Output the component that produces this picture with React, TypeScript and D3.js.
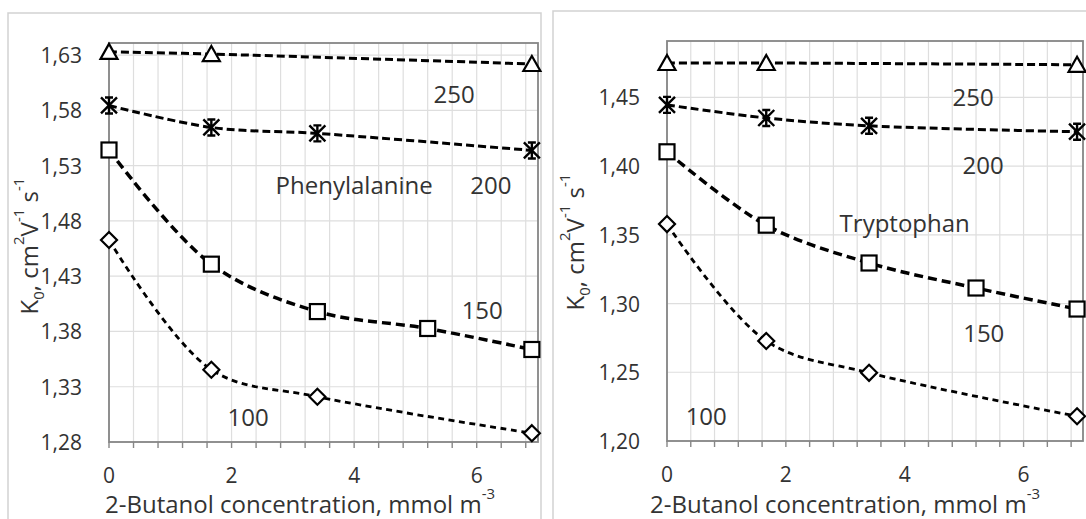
import React from "react";
import * as d3 from "d3";

// x positions (mmol m-3) of the measured points for each curve
const conc250 = [0, 1.67, 6.9];
const conc200 = [0, 1.67, 3.4, 6.9];
const conc150 = [0, 1.67, 3.4, 5.2, 6.9];
const conc100 = [0, 1.67, 3.4, 6.9];

// Phenylalanine K0 values
const phe250 = [1.633, 1.631, 1.622];
const phe200 = [1.5845, 1.5646, 1.5592, 1.5438];
const phe150 = [1.5442, 1.4409, 1.398, 1.3827, 1.3637];
const phe100 = [1.4628, 1.3454, 1.321, 1.288];

// Tryptophan K0 values
const trp250 = [1.475, 1.475, 1.4737];
const trp200 = [1.4445, 1.435, 1.4293, 1.425];
const trp150 = [1.4104, 1.357, 1.3295, 1.3113, 1.296];
const trp100 = [1.3578, 1.2728, 1.2496, 1.218];

// tick labels
const xTicks = [0, 2, 4, 6];
const pheYTicks = [1.28, 1.33, 1.38, 1.43, 1.48, 1.53, 1.58, 1.63];
const trpYTicks = [1.2, 1.25, 1.3, 1.35, 1.4, 1.45];

const font = "'Open Sans', 'DejaVu Sans', sans-serif";
const textColor = "#333";
const fmt = d3
  .formatLocale({ decimal: ",", thousands: " ", grouping: [3], currency: ["", ""] })
  .format(".2f");

type Kind = "triangle" | "star" | "square" | "diamond";

const Marker = ({ kind, x, y }: { kind: Kind; x: number; y: number }) => {
  const common = { fill: "#fff", stroke: "#000", strokeWidth: 2.2 };
  if (kind === "triangle")
    return <path d={`M${x},${y - 8}L${x + 8.5},${y + 7}L${x - 8.5},${y + 7}Z`} {...common} />;
  if (kind === "square")
    return <rect x={x - 7.5} y={y - 7.5} width={15} height={15} {...common} />;
  if (kind === "diamond")
    return <path d={`M${x},${y - 8}L${x + 8},${y}L${x},${y + 8}L${x - 8},${y}Z`} {...common} />;
  const s = 8;
  return (
    <path
      d={`M${x - s},${y - s}L${x + s},${y + s}M${x - s},${y + s}L${x + s},${y - s}M${x},${y - s}L${x},${y + s}M${x - 4},${y - s}L${x + 4},${y - s}M${x - 4},${y + s}L${x + 4},${y + s}`}
      stroke="#000"
      strokeWidth={2.4}
      fill="none"
    />
  );
};

type Series = { conc: number[]; vals: number[]; kind: Kind; width: number; dash: string };
type Note = { text: string; x: number; y: number };

type PanelProps = {
  box: { left: number; top: number; right: number; bottom: number };
  yMin: number;
  yMax: number;
  yTicks: number[];
  series: Series[];
  notes: Note[];
  yTitle: { x: number; y: number };
  xTitle: { x: number; y: number };
};

const Panel = ({ box, yMin, yMax, yTicks, series, notes, yTitle, xTitle }: PanelProps) => {
  const x = d3.scaleLinear().domain([0, 7]).range([box.left, box.right]);
  const y = d3.scaleLinear().domain([yMin, yMax]).range([box.bottom, box.top]);
  const minor = d3.range(0, 7, 0.4);

  const line = d3
    .line<[number, number]>()
    .x((d) => x(d[0]))
    .y((d) => y(d[1]))
    .curve(d3.curveCatmullRom);

  return (
    <g fontFamily={font}>
      {/* gridlines */}
      {minor.map((v) => (
        <line key={"v" + v} x1={x(v)} x2={x(v)} y1={box.top} y2={box.bottom} stroke="#dedede" strokeWidth={1.2} />
      ))}
      {yTicks.map((v) => (
        <line key={"h" + v} x1={box.left} x2={box.right} y1={y(v)} y2={y(v)} stroke="#dedede" strokeWidth={1.2} />
      ))}
      {/* plot border */}
      <rect
        x={box.left}
        y={box.top}
        width={box.right - box.left}
        height={box.bottom - box.top}
        fill="none"
        stroke="#868686"
        strokeWidth={1.8}
      />
      {/* x minor ticks */}
      {minor.map((v) => (
        <line key={"t" + v} x1={x(v)} x2={x(v)} y1={box.bottom} y2={box.bottom + 6} stroke="#868686" strokeWidth={1.4} />
      ))}
      {/* tick labels */}
      {yTicks.map((v) => (
        <text
          key={"yl" + v}
          x={box.left - 27}
          y={y(v)}
          textAnchor="end"
          dominantBaseline="central"
          fontSize={21}
          fill={textColor}
        >
          {fmt(v)}
        </text>
      ))}
      {xTicks.map((v) => (
        <text
          key={"xl" + v}
          x={x(v)}
          y={box.bottom + 33}
          textAnchor="middle"
          dominantBaseline="central"
          fontSize={21}
          fill={textColor}
        >
          {v}
        </text>
      ))}
      {/* curves */}
      {series.map((s, i) => {
        const pts = s.conc.map((c, j) => [c, s.vals[j]] as [number, number]);
        return (
          <g key={"s" + i}>
            <path d={line(pts) ?? ""} fill="none" stroke="#000" strokeWidth={s.width} strokeDasharray={s.dash} />
            {pts.map((p, j) => (
              <Marker key={j} kind={s.kind} x={x(p[0])} y={y(p[1])} />
            ))}
          </g>
        );
      })}
      {/* annotations */}
      {notes.map((n) => (
        <text
          key={n.text}
          x={x(n.x)}
          y={y(n.y)}
          textAnchor="middle"
          dominantBaseline="central"
          fontSize={24}
          fill={textColor}
        >
          {n.text}
        </text>
      ))}
      {/* axis titles */}
      <text x={xTitle.x} y={xTitle.y} textAnchor="middle" dominantBaseline="central" fontSize={24} fill={textColor}>
        2-Butanol concentration, mmol m
        <tspan baselineShift="super" fontSize={15}>
          -3
        </tspan>
      </text>
      <text
        transform={`translate(${yTitle.x},${yTitle.y}) rotate(-90)`}
        textAnchor="middle"
        dominantBaseline="central"
        fontSize={24}
        fill={textColor}
      >
        K
        <tspan baselineShift="sub" fontSize={15}>
          0
        </tspan>
        <tspan>, cm</tspan>
        <tspan baselineShift="super" fontSize={15}>
          2
        </tspan>
        <tspan>V</tspan>
        <tspan baselineShift="super" fontSize={15}>
          -1
        </tspan>
        <tspan> s</tspan>
        <tspan baselineShift="super" fontSize={15}>
          -1
        </tspan>
      </text>
    </g>
  );
};

const mk = (conc: number[], vals: number[], kind: Kind, width: number, dash: string): Series => ({
  conc,
  vals,
  kind,
  width,
  dash,
});

const App = () => {
  const pheSeries = [
    mk(conc250, phe250, "triangle", 3, "8,4"),
    mk(conc200, phe200, "star", 3, "8,4"),
    mk(conc150, phe150, "square", 3.5, "9,5"),
    mk(conc100, phe100, "diamond", 2.8, "6,4.5"),
  ];
  const trpSeries = [
    mk(conc250, trp250, "triangle", 3, "8,4"),
    mk(conc200, trp200, "star", 3, "8,4"),
    mk(conc150, trp150, "square", 3.5, "9,5"),
    mk(conc100, trp100, "diamond", 2.8, "6,4.5"),
  ];

  return (
    <svg width={1086} height={519} style={{ position: "absolute", left: 0, top: 0, background: "#fff" }}>
      <rect x={0} y={0} width={1086} height={519} fill="#fff" />
      {/* chart frames */}
      <rect x={8} y={13} width={533} height={530} fill="none" stroke="#d2d2d2" strokeWidth={1.5} />
      <rect x={553} y={11} width={560} height={530} fill="none" stroke="#d2d2d2" strokeWidth={1.5} />
      <Panel
        box={{ left: 109, top: 43, right: 538, bottom: 442 }}
        yMin={1.28}
        yMax={1.641}
        yTicks={pheYTicks}
        series={pheSeries}
        notes={[
          { text: "250", x: 5.63, y: 1.5956 },
          { text: "Phenylalanine", x: 4.0, y: 1.5133 },
          { text: "200", x: 6.23, y: 1.5133 },
          { text: "150", x: 6.09, y: 1.4003 },
          { text: "100", x: 2.27, y: 1.3035 },
        ]}
        yTitle={{ x: 28, y: 246 }}
        xTitle={{ x: 300, y: 503 }}
      />
      <Panel
        box={{ left: 667, top: 41, right: 1083, bottom: 441 }}
        yMin={1.2}
        yMax={1.491}
        yTicks={trpYTicks}
        series={trpSeries}
        notes={[
          { text: "250", x: 5.15, y: 1.4504 },
          { text: "200", x: 5.32, y: 1.4009 },
          { text: "Tryptophan", x: 4.0, y: 1.3587 },
          { text: "150", x: 5.33, y: 1.2786 },
          { text: "100", x: 0.66, y: 1.2182 },
        ]}
        yTitle={{ x: 574, y: 242 }}
        xTitle={{ x: 845, y: 503 }}
      />
    </svg>
  );
};

export default App;
